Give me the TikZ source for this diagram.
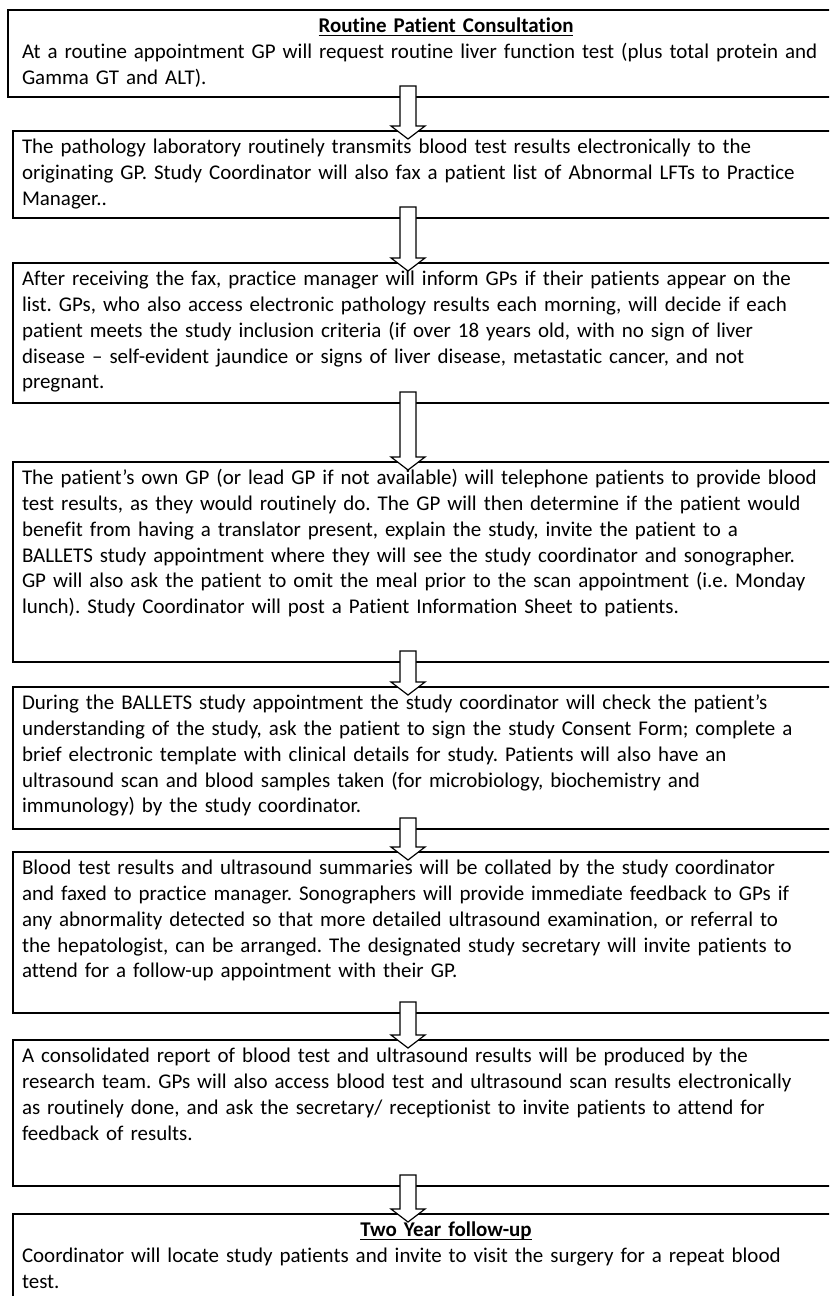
\documentclass[tikz,border=0pt]{standalone}
\usepackage{fontspec}
\setmainfont{Carlito}[Ligatures={TeX,NoCommon}]
\usetikzlibrary{calc}
\setlength\parindent{0pt}
\frenchspacing
% one drawing unit = one pixel of the 829 x 1296 page
\newcommand\pxu{0.5066pt}
% underlined heading text with a fixed rule position
\newcommand\ulbar[1]{\setbox0\hbox{#1}\rlap{\rule[-1.7pt]{\wd0}{0.55pt}}\box0}
% white block arrow from the bottom of one stage to the top of the next
\newcommand\flowarrow[2]{%
  \draw[blockarrow]
    ($(#1.south -| ax)+(-8,-11)$) -- ($(#2.north -| ax)+(-8,-5)$)
    -- ($(#2.north -| ax)+(-17,-5)$) -- ($(#2.north -| ax)+(0,8)$)
    -- ($(#2.north -| ax)+(17,-5)$) -- ($(#2.north -| ax)+(8,-5)$)
    -- ($(#1.south -| ax)+(8,-11)$) -- cycle;}
\begin{document}
\begin{tikzpicture}[x=0.5066pt,y=-0.5066pt,
  stage/.style={draw=black, line width=0.6pt, fill=white, rectangle,
    inner sep=0pt, outer sep=0pt, anchor=north west},
  stagetext/.style={anchor=north west, inner sep=0pt, outer sep=0pt,
    text width=848*\pxu, font=\fontsize{10.62pt}{13.1pt}\selectfont},
  blockarrow/.style={draw=black, line width=0.6pt, fill=white, line join=miter}]
\useasboundingbox (0,0) rectangle (829,1296);
\clip (0,0) rectangle (829,1296);
\fill[white] (0,0) rectangle (829,1296);
\coordinate (ax) at (408,0);

% stage boxes
\node[stage, minimum width=876*\pxu, minimum height=87*\pxu]  (b1) at (8,10) {};
\node[stage, minimum width=871*\pxu, minimum height=87*\pxu]  (b2) at (13,131) {};
\node[stage, minimum width=871*\pxu, minimum height=140*\pxu] (b3) at (13,263) {};
\node[stage, minimum width=871*\pxu, minimum height=200*\pxu] (b4) at (13,462) {};
\node[stage, minimum width=871*\pxu, minimum height=142*\pxu] (b5) at (13,687) {};
\node[stage, minimum width=871*\pxu, minimum height=161*\pxu] (b6) at (13,852) {};
\node[stage, minimum width=871*\pxu, minimum height=146*\pxu] (b7) at (13,1040) {};
\node[stage, minimum width=871*\pxu, minimum height=130*\pxu] (b8) at (13,1214) {};

% stage texts
\node[stagetext] (t1) at (22,14.4) {{\centering\strut\textbf{\ulbar{Routine Patient Consultation}}\par}
\raggedright\strut At a routine appointment GP will request routine liver function test (plus total protein and\\
\strut Gamma GT and ALT).};

\node[stagetext] (t2) at (22,135.4) {\raggedright
\strut The pathology laboratory routinely transmits blood test results electronically to the\\
\strut originating GP. Study Coordinator will also fax a patient list of Abnormal LFTs to Practice\\
\strut Manager..};

\node[stagetext] (t3) at (22,267.4) {\raggedright
\strut After receiving the fax, practice manager will inform GPs if their patients appear on the\\
\strut list. GPs, who also access electronic pathology results each morning, will decide if each\\
\strut patient meets the study inclusion criteria (if over 18 years old, with no sign of liver\\
\strut disease – self-evident jaundice or signs of liver disease, metastatic cancer, and not\\
\strut pregnant.};

\node[stagetext] (t4) at (22,466.4) {\raggedright
\strut The patient’s own GP (or lead GP if not available) will telephone patients to provide blood\\
\strut test results, as they would routinely do. The GP will then determine if the patient would\\
\strut benefit from having a translator present, explain the study, invite the patient to a\\
\strut BALLETS study appointment where they will see the study coordinator and sonographer.\\
\strut GP will also ask the patient to omit the meal prior to the scan appointment (i.e. Monday\\
\strut lunch). Study Coordinator will post a Patient Information Sheet to patients.};

\node[stagetext] (t5) at (22,691.4) {\raggedright
\strut During the BALLETS study appointment the study coordinator will check the patient’s\\
\strut understanding of the study, ask the patient to sign the study Consent Form; complete a\\
\strut brief electronic template with clinical details for study. Patients will also have an\\
\strut ultrasound scan and blood samples taken (for microbiology, biochemistry and\\
\strut immunology) by the study coordinator.};

\node[stagetext] (t6) at (22,856.4) {\raggedright
\strut Blood test results and ultrasound summaries will be collated by the study coordinator\\
\strut and faxed to practice manager. Sonographers will provide immediate feedback to GPs if\\
\strut any abnormality detected so that more detailed ultrasound examination, or referral to\\
\strut the hepatologist, can be arranged. The designated study secretary will invite patients to\\
\strut attend for a follow-up appointment with their GP.};

\node[stagetext] (t7) at (22,1044.4) {\raggedright
\strut A consolidated report of blood test and ultrasound results will be produced by the\\
\strut research team. GPs will also access blood test and ultrasound scan results electronically\\
\strut as routinely done, and ask the secretary/ receptionist to invite patients to attend for\\
\strut feedback of results.};

\node[stagetext] (t8) at (22,1218.4) {{\centering\strut\textbf{\ulbar{Two Year follow-up}}\par}
\raggedright\strut Coordinator will locate study patients and invite to visit the surgery for a repeat blood\\
\strut test.};

% connectors
\flowarrow{b1}{b2}
\flowarrow{b2}{b3}
\flowarrow{b3}{b4}
\flowarrow{b4}{b5}
\flowarrow{b5}{b6}
\flowarrow{b6}{b7}
\flowarrow{b7}{b8}
\end{tikzpicture}
\end{document}
